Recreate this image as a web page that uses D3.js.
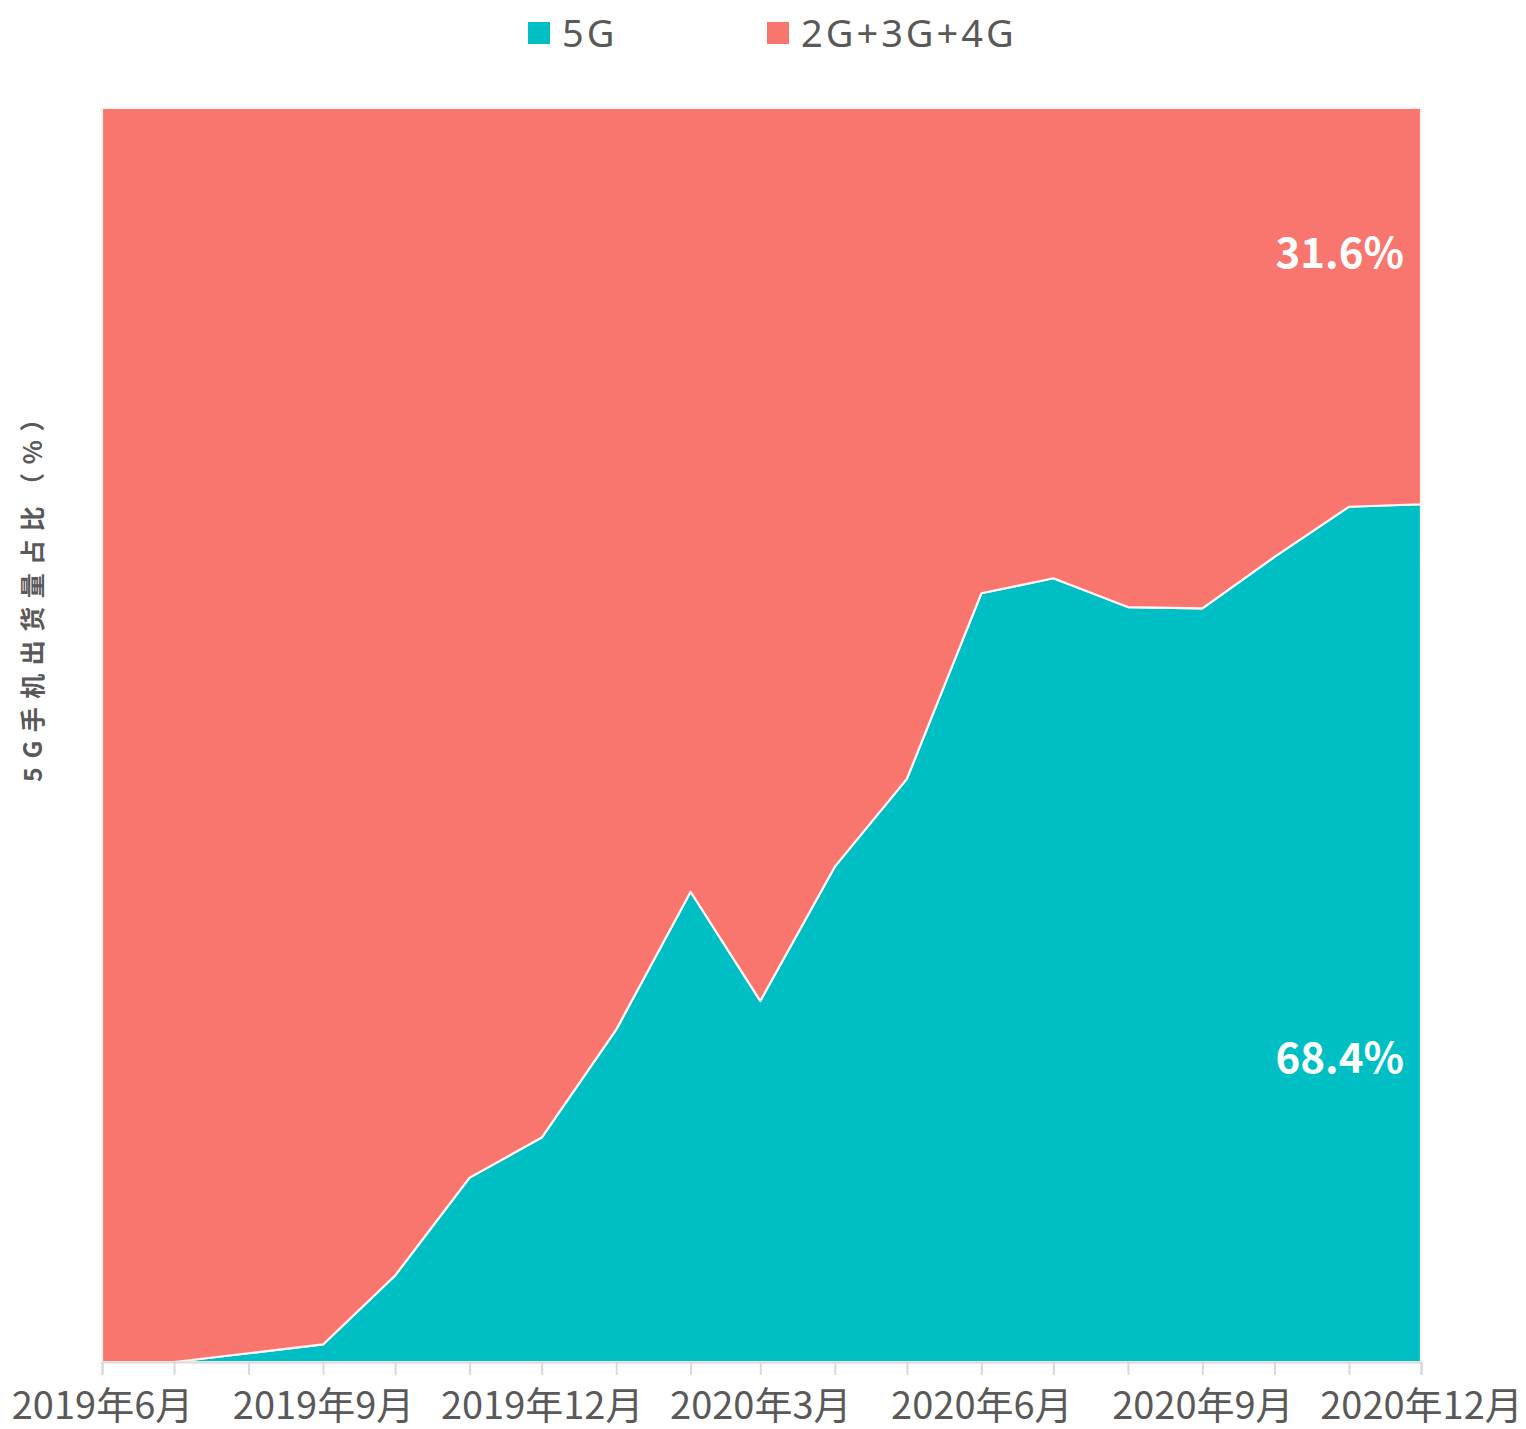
<!DOCTYPE html>
<html>
<head>
<meta charset="utf-8">
<script src="https://cdn.jsdelivr.net/npm/d3@7"></script>
<style>
  html, body { margin: 0; padding: 0; background: #fff; }
  svg { display: block; }
</style>
</head>
<body>
<svg id="chart" width="1526" height="1429"></svg>
<script>
// Monthly shipments, June 2019 – December 2020
const months = ["2019-06","2019-07","2019-08","2019-09","2019-10","2019-11","2019-12",
  "2020-01","2020-02","2020-03","2020-04","2020-05","2020-06","2020-07","2020-08",
  "2020-09","2020-10","2020-11","2020-12"];
// 5G share of handset shipments (%)
const share5G = [0, 0, 0.7, 1.4, 6.9, 14.7, 17.9, 26.5, 37.5, 28.8, 39.5, 46.5,
  61.3, 62.5, 60.2, 60.1, 64.2, 68.2, 68.4];
const seriesNames = ["5G", "2G+3G+4G"];
const seriesColors = ["#00BFC4", "#F8766D"];
const tickMonths = ["2019-06","2019-09","2019-12","2020-03","2020-06","2020-09","2020-12"];
const yTitle = "5G手机出货量占比（%）";

const font = "'Noto Sans CJK SC', 'Noto Sans', sans-serif";
const latinFont = "'Noto Sans', 'Open Sans', sans-serif";
const svg = d3.select("#chart");
const margin = { left: 102, right: 105, top: 108, bottom: 67 };
const W = 1526, H = 1429;

const parse = d3.timeParse("%Y-%m");
const rows = months.map((m, i) => ({ date: parse(m), "5G": share5G[i], "2G+3G+4G": 100 - share5G[i] }));

const x = d3.scaleTime()
  .domain(d3.extent(rows, d => d.date))
  .range([margin.left, W - margin.right]);
const y = d3.scaleLinear().domain([0, 100]).range([H - margin.bottom, margin.top]);

const stacked = d3.stack().keys(seriesNames)(rows);
const area = d3.area()
  .x(d => x(d.data.date))
  .y0(d => y(d[0]))
  .y1(d => y(d[1]));

svg.append("g").selectAll("path")
  .data(stacked)
  .join("path")
  .attr("d", area)
  .attr("fill", (d, i) => seriesColors[i])
  .attr("stroke", "#fdf3f2")
  .attr("stroke-width", 2.2)
  .attr("stroke-linejoin", "round");

// bottom axis with a tick every month, labels every quarter
const fmt = d3.timeFormat("%Y年%-m月");
const tickSet = new Set(tickMonths);
const xAxis = d3.axisBottom(x)
  .tickValues(rows.map(d => d.date))
  .tickSize(13)
  .tickPadding(17)
  .tickFormat(d => tickSet.has(d3.timeFormat("%Y-%m")(d)) ? fmt(d) : "");
const gx = svg.append("g")
  .attr("transform", `translate(0,${H - margin.bottom})`)
  .call(xAxis);
gx.select(".domain").attr("stroke", "#d9d9d9").attr("stroke-width", 2);
gx.selectAll(".tick line").attr("stroke", "#d9d9d9").attr("stroke-width", 2);
gx.selectAll(".tick text")
  .attr("fill", "#595959")
  .style("font-family", font)
  .style("font-size", "38px");

// y-axis title
svg.append("text")
  .attr("transform", `translate(42,590) rotate(-90)`)
  .attr("text-anchor", "middle")
  .attr("fill", "#595959")
  .style("font-family", font)
  .style("font-size", "25px")
  .style("font-weight", "bold")
  .style("letter-spacing", "8.5px")
  .text(yTitle);

// value labels for the last month
const last = rows[rows.length - 1];
const labels = [
  { text: d3.format(".1f")(last["2G+3G+4G"]) + "%", at: 88.4 },
  { text: d3.format(".1f")(last["5G"]) + "%", at: 24.2 }
];
svg.append("g").selectAll("text")
  .data(labels)
  .join("text")
  .attr("x", x(last.date) - 17)
  .attr("y", d => y(d.at))
  .attr("dy", "0.35em")
  .attr("text-anchor", "end")
  .attr("fill", "#ffffff")
  .style("font-family", font)
  .style("font-size", "42px")
  .style("font-weight", "bold")
  .text(d => d.text);

// legend
const legendX = [528, 767];
const lg = svg.append("g").selectAll("g")
  .data(seriesNames)
  .join("g")
  .attr("transform", (d, i) => `translate(${legendX[i]},22)`);
lg.append("rect")
  .attr("width", 22).attr("height", 22)
  .attr("fill", (d, i) => seriesColors[i]);
lg.append("text")
  .attr("x", 34).attr("y", 11).attr("dy", "0.36em")
  .attr("fill", "#595959")
  .style("font-family", latinFont)
  .style("font-size", "38px")
  .style("letter-spacing", "3px")
  .text(d => d);
</script>
</body>
</html>
